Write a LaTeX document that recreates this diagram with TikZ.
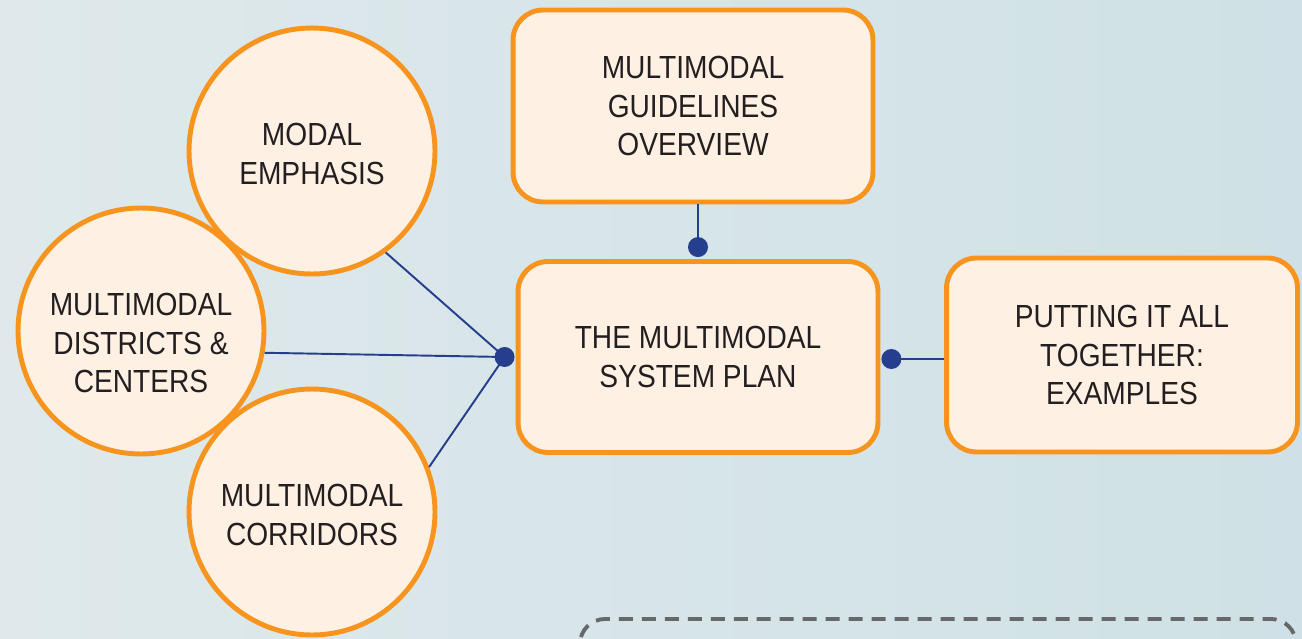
\documentclass[tikz,border=0pt]{standalone}
\usepackage{fontspec}
\setmainfont{Liberation Sans}[FakeStretch=0.88]
\usetikzlibrary{calc}
\definecolor{bgL}{HTML}{DFE9EB}
\definecolor{bgR}{HTML}{CFE1E6}
\definecolor{orng}{HTML}{F7941D}
\definecolor{cream}{HTML}{FEF0E3}
\definecolor{navy}{HTML}{253E8E}
\definecolor{txt}{HTML}{231F20}
\definecolor{dashgray}{HTML}{666869}
\tikzset{
  lbl/.style={align=center, text=txt, font=\fontsize{18.2}{21.9}\selectfont},
  bubble/.style={circle, draw=orng, fill=cream, line width=2.8pt, minimum size=4.92cm, inner sep=0pt},
  panel/.style={lbl, rectangle, rounded corners=0.6cm, draw=orng, fill=cream, line width=2.8pt, inner sep=0pt},
  link/.style={draw=navy, line width=1.1pt},
  knob/.style={fill=navy, draw=none},
}
\begin{document}
\begin{tikzpicture}[x=0.02cm, y=-0.02cm]
\useasboundingbox (0,0) rectangle (1302,639);
\shade[left color=bgL, right color=bgR] (0,0) rectangle (1302,639);
% circles
\node[bubble, label={[lbl, yshift=-0.24cm]center:MULTIMODAL\\DISTRICTS \&\\CENTERS}] (dc) at (141,331) {};
\node[bubble, label={[lbl, yshift=-0.06cm]center:MODAL\\EMPHASIS}] (me) at (312,151) {};
\node[bubble, label={[lbl, yshift=-0.06cm]center:MULTIMODAL\\CORRIDORS}] (co) at (312,512) {};
% boxes
\node[panel, minimum width=7.2cm, minimum height=3.84cm] (gl) at (693,106) {MULTIMODAL\\GUIDELINES\\OVERVIEW};
\node[panel, minimum width=7.2cm, minimum height=3.82cm] (sp) at (698,357) {THE MULTIMODAL\\SYSTEM PLAN};
\node[panel, minimum width=7.02cm, minimum height=3.88cm] (pt) at (1122,355) {PUTTING IT ALL\\TOGETHER:\\EXAMPLES};
% connector points
\coordinate (dL) at ([xshift=-0.22cm, yshift=0cm]sp.west);
\coordinate (dT) at ([yshift=0.24cm]sp.north);
\coordinate (dR) at ([xshift=0.22cm, yshift=-0.04cm]sp.east);
\draw[link] (me.-54.5) -- (dL);
\draw[link] (dc.-10) -- (dL);
\draw[link] (co.21) -- (dL);
\draw[link] (dT |- gl.south) -- (dT);
\draw[link] (dR) -- (dR -| pt.west);
\fill[knob] (dL) circle (0.2cm);
\fill[knob] (dT) circle (0.2cm);
\fill[knob] (dR) circle (0.2cm);
% dashed panel (cut off)
\draw[dashgray, line width=2.2pt, dash pattern=on 0.28cm off 0.18cm, rounded corners=0.5cm]
  (580,660) -- (580,619) -- (1296,619) -- (1296,660);
\end{tikzpicture}
\end{document}
